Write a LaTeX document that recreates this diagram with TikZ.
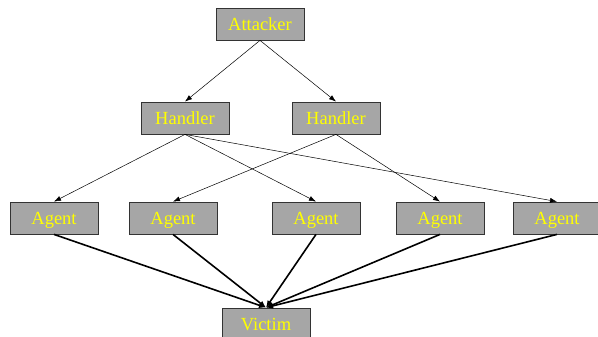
\documentclass[tikz,border=0pt]{standalone}
\usepackage{fontspec}
\setmainfont{Liberation Serif}
\usetikzlibrary{arrows.meta}
\definecolor{boxgray}{HTML}{A6A6A6}
\definecolor{txtyellow}{HTML}{FFFF00}
\begin{document}
\begin{tikzpicture}[x=1pt,y=-1pt,
  box/.style={draw=black!80, line width=0.8pt, fill=boxgray, minimum width=88pt, minimum height=32pt, inner sep=0pt,
    text=txtyellow, font=\fontsize{18.5}{20}\selectfont, text height=13.5pt, text depth=0pt},
  thin/.style={line width=0.5pt, -{Latex[length=7pt,width=5pt]}},
  thick/.style={line width=1.6pt, -{Latex[length=7pt,width=6pt]}}]
\useasboundingbox (0,0) rectangle (598,337);
\node[box] (att) at (260,24) {Attacker};
\node[box] (h1) at (185,118) {Handler};
\node[box] (h2) at (336,118) {Handler};
\node[box] (a1) at (54,218) {Agent};
\node[box] (a2) at (173,218) {Agent};
\node[box] (a3) at (316,218) {Agent};
\node[box] (a4) at (440,218) {Agent};
\node[box] (a5) at (557,218) {Agent};
\node[box] (v) at (266,324) {Victim};
\draw[thin] (att.south) -- (h1.north);
\draw[thin] (att.south) -- (h2.north);
\draw[thin] (h1.south) -- (a1.north);
\draw[thin] (h1.south) -- (a3.north);
\draw[thin] (h1.south) -- (a5.north);
\draw[thin] (h2.south) -- (a2.north);
\draw[thin] (h2.south) -- (a4.north);
\foreach \a in {a1,a2,a3,a4,a5}
  \draw[thick] (\a.south) -- (v.north);
\end{tikzpicture}
\end{document}
